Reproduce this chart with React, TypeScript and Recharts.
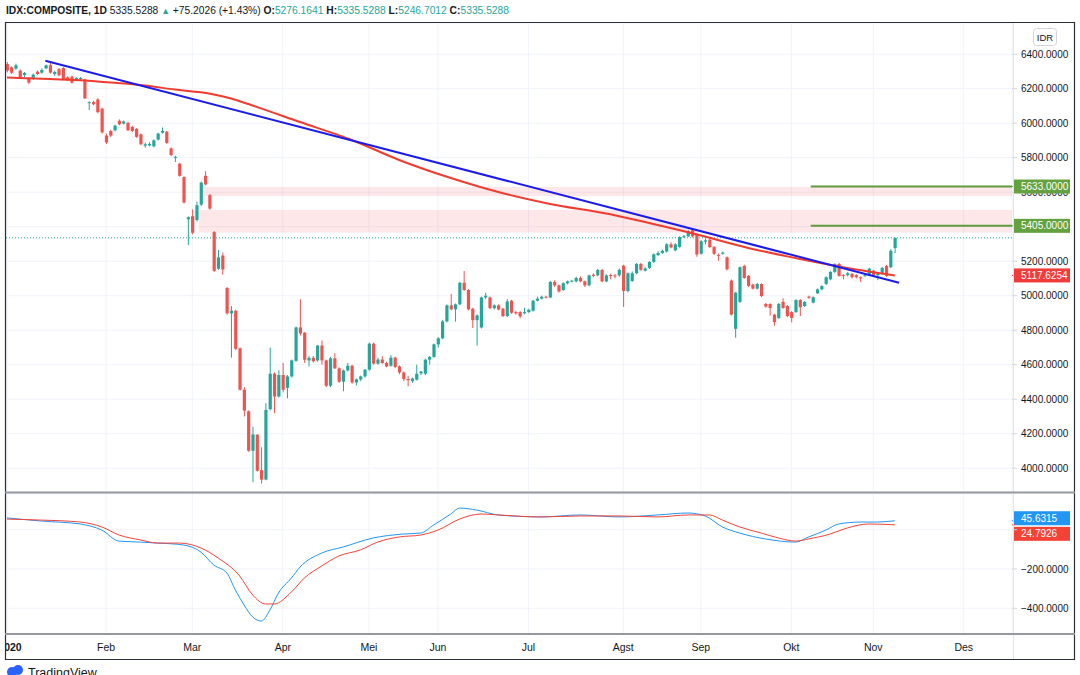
import React from 'react';
import { ComposedChart, Bar, Line, XAxis, YAxis, CartesianGrid, ReferenceLine, ReferenceArea } from 'recharts';

const UP = '#26a69a';
const DOWN = '#ef5350';

// daily OHLC, IDX:COMPOSITE 2020
const opens = [6343,6324,6317,6305,6280,6262,6258,6299,6293,6318,6336,6285,6313,6320,6266,6270,6249,6255,6254,6118,6122,6138,6084,5928,5955,5959,6014,5998,6002,5979,5967,5936,5870,5872,5866,5905,5945,5951,5854,5800,5765,5688,5443,5461,5439,5528,5695,5583,5369,5156,5233,5045,4897,4913,4695,4455,4330,4101,4194,3989,3934,4342,4548,4416,4540,4466,4532,4622,4816,4785,4625,4640,4625,4711,4625,4478,4637,4579,4501,4567,4594,4497,4515,4532,4571,4722,4606,4630,4610,4594,4641,4590,4555,4517,4505,4513,4550,4548,4629,4645,4718,4753,4851,4944,4921,4950,5075,5033,4925,4858,4816,4990,4990,4928,4944,4925,4882,4971,4905,4905,4898,4905,4913,4971,4983,4994,4990,5080,5060,5033,5072,5083,5083,5103,5083,5060,5122,5118,5149,5083,5120,5118,5118,5174,5027,5085,5130,5184,5145,5161,5196,5236,5248,5256,5298,5263,5283,5340,5344,5379,5356,5243,5313,5325,5282,5237,5243,5223,5088,4808,4964,5173,5115,5064,5041,5068,4952,4952,4890,4871,4964,4940,4905,4905,4975,4940,4995,4960,5014,5037,5068,5095,5138,5184,5119,5119,5127,5119,5107,5117,5119,5145,5119,5130,5173,5165,5276.1641];
const highs = [6355,6330,6345,6312,6297,6268,6288,6305,6318,6340,6357,6305,6320,6325,6272,6276,6266,6268,6258,6126,6130,6145,6090,5940,5962,5992,6022,6016,6008,5986,5972,5940,5888,5890,5906,5945,5975,5955,5860,5812,5770,5692,5460,5500,5545,5662,5722,5590,5375,5265,5250,5050,4940,4918,4700,4470,4335,4241,4198,4121,4377,4699,4555,4568,4610,4540,4630,4822,4979,4790,4650,4650,4715,4740,4630,4645,4667,4585,4572,4610,4600,4520,4537,4575,4728,4728,4640,4650,4618,4655,4646,4596,4560,4535,4525,4600,4565,4635,4650,4722,4760,4860,4950,5010,4955,5080,5143,5038,4930,4892,4995,5017,4995,4950,4950,4930,4980,4976,4912,4910,4930,4925,4976,4995,5000,5000,5085,5090,5065,5078,5088,5092,5110,5112,5088,5122,5130,5155,5155,5124,5128,5125,5158,5180,5135,5140,5190,5190,5165,5200,5245,5258,5268,5305,5310,5305,5345,5352,5380,5390,5360,5322,5333,5330,5288,5245,5256,5228,5094,5022,5170,5180,5120,5070,5074,5072,4958,4956,4895,4958,4985,4946,4910,4980,4980,4970,5000,4996,5042,5060,5112,5142,5188,5190,5125,5138,5132,5125,5112,5125,5162,5150,5132,5166,5178,5270,5335.5288];
const lows = [6295,6285,6310,6260,6268,6228,6252,6280,6288,6314,6288,6274,6272,6250,6244,6230,6244,6250,6140,6076,6105,6058,5940,5880,5920,5952,5988,5992,5955,5948,5915,5872,5858,5866,5860,5900,5940,5880,5808,5775,5690,5535,5293,5355,5430,5520,5640,5498,5138,5150,5122,4890,4641,4685,4450,4300,4095,3919,3980,3911,3930,4335,4319,4410,4440,4405,4525,4618,4770,4610,4590,4612,4618,4600,4470,4470,4575,4495,4446,4560,4490,4480,4505,4525,4565,4600,4600,4605,4585,4588,4580,4545,4505,4475,4495,4508,4540,4540,4600,4640,4700,4748,4845,4915,4850,4945,5028,4915,4813,4711,4810,4980,4922,4920,4915,4876,4876,4895,4890,4870,4892,4900,4908,4966,4978,4984,4985,5050,5018,5028,5066,5078,5078,5078,5050,5055,5108,5112,5078,5078,5095,5100,5110,4935,5020,5080,5125,5145,5140,5155,5190,5230,5242,5250,5275,5258,5278,5335,5340,5338,5226,5238,5297,5276,5236,5202,5238,5146,4885,4756,4958,5098,5050,5035,5036,4992,4930,4885,4826,4866,4924,4876,4845,4900,4882,4935,4982,4955,5010,5032,5062,5090,5132,5110,5095,5112,5100,5100,5080,5110,5114,5114,5090,5125,5110,5160,5246.7012];
const closes = [6305,6293,6336,6266,6291,6235,6282,6285,6309,6336,6293,6297,6278,6254,6249,6235,6262,6262,6144,6122,6110,6064,5947,5889,5928,5986,5994,6010,5959,5955,5921,5878,5878,5880,5901,5940,5955,5886,5816,5805,5695,5540,5455,5365,5525,5656,5645,5505,5144,5222,5152,4898,4913,4692,4455,4334,4101,4196,3985,3934,4338,4548,4416,4540,4455,4532,4625,4816,4781,4629,4640,4620,4711,4625,4478,4637,4579,4501,4567,4594,4497,4515,4532,4571,4722,4606,4630,4610,4590,4641,4587,4555,4517,4510,4520,4548,4560,4629,4645,4718,4753,4851,4944,4921,4950,5075,5033,4921,4858,4886,4990,5000,4928,4944,4920,4882,4967,4901,4898,4880,4905,4918,4971,4983,4994,4990,5080,5060,5025,5072,5083,5087,5103,5083,5060,5118,5115,5149,5083,5118,5115,5112,5150,5027,5130,5130,5184,5150,5158,5196,5240,5248,5260,5298,5280,5298,5340,5344,5375,5344,5239,5316,5321,5282,5243,5233,5250,5153,4890,5017,5165,5103,5057,5041,5068,4998,4937,4929,4847,4952,4929,4882,4871,4975,4933,4964,4988,4991,5037,5056,5107,5138,5184,5115,5115,5130,5107,5107,5100,5119,5157,5119,5127,5161,5115,5260.33,5335.5288];

// long moving average (red), read at sample bars
const maIdx = [0, 10, 18, 24, 32, 39, 45, 48, 52, 56, 68, 80, 91, 103, 114, 126, 140, 149, 159, 172, 184, 195, 206];
const maVal = [6265, 6256, 6248, 6236, 6219, 6195, 6179, 6166, 6143, 6111, 6007, 5903, 5787, 5682, 5601, 5532, 5472, 5421, 5362, 5277, 5213, 5161, 5117.6254];

// MACD panel
const macdIdx = [0, 8, 17, 22, 26, 31, 35, 41, 45, 48, 51, 53, 55, 57, 59, 61, 63, 66, 68, 73, 78, 85, 92, 96, 99, 103, 105, 109, 114, 124, 133, 142, 151, 158, 162, 166, 170, 176, 183, 186, 190, 193, 198, 202, 206];
const macdVal = [60, 44, 29, -2, -58, -63, -68, -78, -114, -180, -220, -307, -383, -444, -465, -409, -322, -246, -190, -119, -88, -42, -22, -17, 24, 80, 110, 100, 75, 65, 75, 65, 75, 85, 70, 14, -17, -47, -63, -37, -2, 29, 39, 39, 45.6315];
const sigIdx = [0, 8, 17, 22, 26, 31, 35, 40, 45, 49, 54, 57, 60, 62, 66, 69, 73, 77, 82, 86, 91, 96, 100, 105, 110, 114, 124, 133, 142, 151, 158, 163, 166, 170, 175, 179, 183, 186, 191, 195, 200, 206];
const sigVal = [54, 49, 39, 14, -27, -52, -68, -68, -93, -144, -236, -332, -378, -378, -317, -246, -185, -134, -103, -63, -37, -27, -2, 54, 80, 75, 65, 70, 70, 65, 75, 75, 49, 14, -17, -42, -58, -47, -22, 9, 29, 24.7926];

// drawings
const trendIdx = [8.9, 207];
const trendVal = [6362, 5075];
const zoneStart = [45, 44.5];
const zoneLow = [5578, 5366];
const zoneHigh = [5630, 5497];
const levelStart = 186.5;
const levels = [5633, 5405];
const lastClose = 5335.5288;
const maLast = 5117.6254;
const macdLast = 45.6315;
const signalLast = 24.7926;

const monthIdx = [0, 23, 43, 64, 84, 100, 121, 143, 161, 182, 201, 222];
const monthLabels = ['2020', 'Feb', 'Mar', 'Apr', 'Mei', 'Jun', 'Jul', 'Agst', 'Sep', 'Okt', 'Nov', 'Des'];
const priceTicks = [4000, 4200, 4400, 4600, 4800, 5000, 5200, 5400, 5600, 5800, 6000, 6200, 6400];
const macdTicks = [-400, -200, 0];

const X_DOMAIN: [number, number] = [-0.23, 233.2];
const PRICE_DOMAIN: [number, number] = [3862, 6581];
const MACD_DOMAIN: [number, number] = [-530.8, 181.7];

const rows: any[] = opens.map((o, i) => ({ i, o, h: highs[i], l: lows[i], c: closes[i], range: [lows[i], highs[i]] }));
maIdx.forEach((k, j) => { rows[k].ma = maVal[j]; });
macdIdx.forEach((k, j) => { rows[k].macd = macdVal[j]; });
sigIdx.forEach((k, j) => { rows[k].sig = sigVal[j]; });

const fmt = (v: number) => v.toFixed(4).replace('-', '\u2212');

const Candle = (props: any) => {
  const { x, y, width, height, payload } = props;
  if (x == null || y == null || !payload) return null;
  const { o, h, l, c } = payload;
  const top = Math.min(y, y + height);
  const hh = Math.abs(height);
  const ratio = h - l === 0 ? 0 : hh / (h - l);
  const yO = top + (h - o) * ratio;
  const yC = top + (h - c) * ratio;
  const bTop = Math.min(yO, yC);
  const bH = Math.max(1, Math.abs(yO - yC));
  const cx = x + width / 2;
  const col = c >= o ? UP : DOWN;
  return (
    <g>
      <line x1={cx} x2={cx} y1={top} y2={top + hh} stroke={col} strokeWidth={1} />
      <rect x={cx - 1.6} y={bTop} width={3.2} height={bH} fill={col} />
    </g>
  );
};

const Tag = (props: any) => {
  const { viewBox, text, bg, dy = 0 } = props;
  if (!viewBox) return null;
  const x = viewBox.x + viewBox.width;
  const y = viewBox.y + dy;
  return (
    <g>
      <line x1={x} x2={x + 3} y1={viewBox.y} y2={viewBox.y} stroke={bg} strokeWidth={1} />
      <rect x={x + 2} y={y - 7} width={56} height={14} fill={bg} />
      <text x={x + 9} y={y + 3.6} fill="#ffffff" fontSize={10}>{text}</text>
    </g>
  );
};

const MonthTick = (props: any) => {
  const { x, y, payload } = props;
  const k = monthIdx.indexOf(payload.value);
  const label = k >= 0 ? monthLabels[k] : '';
  const first = k === 0;
  return (
    <text x={first ? x + 3 : x} y={y + 9} textAnchor="middle" fontSize={10.5} fill="#131722" fontWeight={first ? 700 : 400}>{label}</text>
  );
};

const Header = () => (
  <svg width={1080} height={22} style={{ position: 'absolute', left: 0, top: 0 }}>
    <text x={6} y={14} fontSize={10.5} fill="#131722" textLength={503} lengthAdjust="spacingAndGlyphs">
      <tspan fontWeight={700}>IDX:COMPOSITE, 1D</tspan>
      <tspan> 5335.5288 </tspan>
      <tspan fill={UP} fontSize={9}>▲</tspan>
      <tspan> +75.2026 (+1.43%) </tspan>
      <tspan fontWeight={700}>O:</tspan>
      <tspan fill={UP}>5276.1641 </tspan>
      <tspan fontWeight={700}>H:</tspan>
      <tspan fill={UP}>5335.5288 </tspan>
      <tspan fontWeight={700}>L:</tspan>
      <tspan fill={UP}>5246.7012 </tspan>
      <tspan fontWeight={700}>C:</tspan>
      <tspan fill={UP}>5335.5288</tspan>
    </text>
  </svg>
);

const Frame = () => (
  <svg width={1080} height={675} style={{ position: 'absolute', left: 0, top: 0, pointerEvents: 'none' }}>
    <rect x={0} y={22} width={5} height={653} fill="#ffffff" />
    <line x1={1013.5} x2={1013.5} y1={22} y2={659} stroke="#e0e3eb" strokeWidth={1} />
    <line x1={5} x2={1075} y1={22.5} y2={22.5} stroke="#2a2e39" strokeWidth={1.2} />
    <line x1={5.5} x2={5.5} y1={22} y2={660} stroke="#2a2e39" strokeWidth={1.2} />
    <line x1={1074.5} x2={1074.5} y1={22} y2={660} stroke="#2a2e39" strokeWidth={1.2} />
    <line x1={5} x2={1075} y1={659.5} y2={659.5} stroke="#2a2e39" strokeWidth={1.2} />
    <line x1={5} x2={1075} y1={492.5} y2={492.5} stroke="#9598a1" strokeWidth={2} />
    <line x1={5} x2={1075} y1={634} y2={634} stroke="#9598a1" strokeWidth={2} />
    <rect x={1033.5} y={28.5} width={23} height={17} rx={3} fill="#ffffff" stroke="#d1d4dc" />
    <text x={1045} y={40.5} textAnchor="middle" fontSize={9.5} fill="#131722">IDR</text>
    <g fill="#2962ff">
      <circle cx={12} cy={672} r={5} />
      <circle cx={18} cy={670} r={5} />
    </g>
    <text x={28} y={677} fontSize={12.5} fill="#131722">TradingView</text>
  </svg>
);

export default function App() {
  return (
    <div style={{ position: 'absolute', left: 0, top: 0, width: 1080, height: 675, background: '#ffffff', overflow: 'hidden', fontFamily: "'Liberation Sans', Arial, sans-serif" }}>
      <Header />
      <div style={{ position: 'absolute', left: 0, top: 0 }}>
        <ComposedChart width={1080} height={493} data={rows} margin={{ top: 23, right: 5, bottom: 1, left: 6 }}>
          <CartesianGrid stroke="#f0f3fa" />
          <XAxis dataKey="i" type="number" domain={X_DOMAIN} ticks={monthIdx} allowDataOverflow hide />
          <YAxis orientation="right" domain={PRICE_DOMAIN} ticks={priceTicks} allowDataOverflow width={63}
            tickFormatter={fmt} tick={{ fontSize: 10, fill: '#131722' }} tickSize={5} tickMargin={4}
            tickLine={{ stroke: '#d1d4dc' }} axisLine={false} interval={0} />
          {zoneStart.map((s, k) => (
            <ReferenceArea key={'z' + k} x1={s} x2={X_DOMAIN[1]} y1={zoneLow[k]} y2={zoneHigh[k]} fill="#f23645" fillOpacity={0.12} stroke="none" />
          ))}
          <ReferenceLine y={lastClose} stroke={UP} strokeDasharray="1 2" strokeWidth={1} />
          <Bar dataKey="range" shape={<Candle />} barSize={3} isAnimationActive={false} />
          <Line dataKey="ma" type="monotone" stroke="#f23b2f" strokeWidth={2} dot={false} connectNulls isAnimationActive={false} />
          <ReferenceLine segment={[{ x: trendIdx[0], y: trendVal[0] }, { x: trendIdx[1], y: trendVal[1] }]} stroke="#1b1bee" strokeWidth={2} />
          {levels.map((lv, k) => (
            <ReferenceLine key={'l' + k} segment={[{ x: levelStart, y: lv }, { x: X_DOMAIN[1], y: lv }]} stroke="#5f9b3c" strokeWidth={2} />
          ))}
        </ComposedChart>
      </div>
      {/* price tags drawn above the axis labels */}
      <div style={{ position: 'absolute', left: 0, top: 0 }}>
        <ComposedChart width={1080} height={493} data={rows} margin={{ top: 23, right: 5, bottom: 1, left: 6 }}>
          <XAxis dataKey="i" type="number" domain={X_DOMAIN} allowDataOverflow hide />
          <YAxis orientation="right" domain={PRICE_DOMAIN} allowDataOverflow width={63} tick={false} tickLine={false} axisLine={false} />
          {levels.map((lv, k) => (
            <ReferenceLine key={'t' + k} y={lv} stroke="none" label={<Tag text={fmt(lv)} bg="#64a23f" />} />
          ))}
          <ReferenceLine y={maLast} stroke="none" label={<Tag text={fmt(maLast)} bg="#f23b3b" />} />
        </ComposedChart>
      </div>
      <div style={{ position: 'absolute', left: 0, top: 493 }}>
        <ComposedChart width={1080} height={166} data={rows} margin={{ top: 1, right: 5, bottom: 0, left: 6 }}>
          <CartesianGrid stroke="#f0f3fa" />
          <XAxis dataKey="i" type="number" domain={X_DOMAIN} ticks={monthIdx} allowDataOverflow height={25}
            tick={<MonthTick />} tickLine={false} axisLine={false} interval={0} />
          <YAxis orientation="right" domain={MACD_DOMAIN} ticks={macdTicks} allowDataOverflow width={63}
            tickFormatter={(v: number) => (v === 0 ? '' : fmt(v))} tick={{ fontSize: 10, fill: '#131722' }} tickSize={5} tickMargin={4}
            tickLine={{ stroke: '#d1d4dc' }} axisLine={false} interval={0} />
          <Line dataKey="macd" type="monotone" stroke="#2196f3" strokeWidth={1} dot={false} connectNulls isAnimationActive={false} />
          <Line dataKey="sig" type="monotone" stroke="#f44336" strokeWidth={1} dot={false} connectNulls isAnimationActive={false} />
          <ReferenceLine y={macdLast} stroke="none" label={<Tag text={fmt(macdLast)} bg="#2196f3" dy={-2.5} />} />
          <ReferenceLine y={signalLast} stroke="none" label={<Tag text={fmt(signalLast)} bg="#f44336" dy={9} />} />
        </ComposedChart>
      </div>
      <Frame />
    </div>
  );
}
